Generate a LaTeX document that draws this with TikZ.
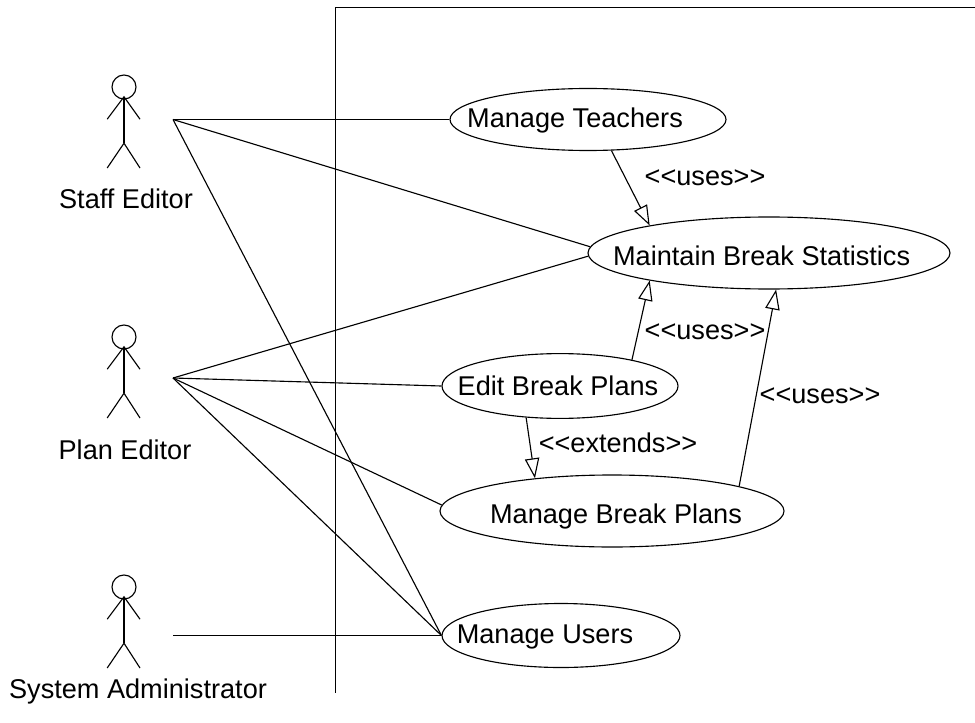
\documentclass[tikz,border=0pt]{standalone}
\usepackage{fontspec}
\setmainfont{Liberation Sans}
\usepackage{tikz}
\usepackage{xcolor}
\usetikzlibrary{shapes.geometric,arrows.meta}
\tikzset{
  usecase/.style={draw,ellipse,inner sep=0pt},
  caption/.style={font=\fontsize{19.3pt}{22pt}\selectfont,inner sep=0pt},
  uses/.style={-{Triangle[open,length=0.5cm,width=0.36cm]}},
}

\begin{document}
\begin{tikzpicture}[line width=0.8pt]
\useasboundingbox (0,0) rectangle (24.375,-18.05);
% system boundary
\coordinate (boundtop) at (8.3875,-0.1875);
\coordinate (boundright) at (24.375,-0.1875);
\coordinate (boundbottom) at (8.3875,-17.325);
\draw (boundright) -- (boundtop) -- (boundbottom);
% staff editor
\draw (3.1,-2.175) circle (0.3);
\draw (3.1,-2.42) -- (3.1,-3.58);
\draw (2.68,-2.98) -- (3.1,-2.42) -- (3.5,-2.98);
\draw (2.68,-4.2) -- (3.1,-3.58) -- (3.5,-4.2);
\coordinate (staffend) at (4.325,-2.9875);
\node (stafflabel) [caption] at (3.15,-4.975) {Staff Editor};
% plan editor
\draw (3.1,-8.425) circle (0.3);
\draw (3.1,-8.67) -- (3.1,-9.83);
\draw (2.68,-9.23) -- (3.1,-8.67) -- (3.5,-9.23);
\draw (2.68,-10.45) -- (3.1,-9.83) -- (3.5,-10.45);
\coordinate (planend) at (4.325,-9.45);
\node (planlabel) [caption] at (3.125,-11.25) {Plan Editor};
% system administrator
\draw (3.1,-14.675) circle (0.3);
\draw (3.1,-14.92) -- (3.1,-16.08);
\draw (2.68,-15.48) -- (3.1,-14.92) -- (3.5,-15.48);
\draw (2.68,-16.7) -- (3.1,-16.08) -- (3.5,-16.7);
\coordinate (sysend) at (4.325,-15.8875);
\node (syslabel) [caption] at (3.45,-17.275) {System Administrator};
% use cases
\node (teachers) [usecase,minimum width=6.9cm,minimum height=1.55cm] at (14.7,-2.9875) {};
\node (maintain) [usecase,minimum width=9.05cm,minimum height=1.8cm] at (19.225,-6.325) {};
\node (edit) [usecase,minimum width=5.9cm,minimum height=1.62cm] at (14.0,-9.65) {};
\node (manage) [usecase,minimum width=8.6cm,minimum height=1.8cm] at (15.3,-12.775) {};
\node (users) [usecase,minimum width=5.95cm,minimum height=1.6cm] at (14.025,-15.8875) {};
\node (teacherstext) [caption] at (14.375,-3.0) {Manage Teachers};
\node (maintaintext) [caption] at (19.04,-6.4) {Maintain Break Statistics};
\node (edittext) [caption] at (13.95,-9.65) {Edit Break Plans};
\node (managetext) [caption] at (15.4,-12.9) {Manage Break Plans};
\node (userstext) [caption] at (13.625,-15.925) {Manage Users};
% actor lines
\draw (staffend) -- (teachers.west);
\draw (staffend) -- (maintain.178.4);
\draw (staffend) -- (users.west);
\draw (planend) -- (maintain.181.6);
\draw (planend) -- (edit.west);
\draw (planend) -- (manage.178.5);
\draw (planend) -- (users.west);
\draw (sysend) -- (users.west);
% relations
\draw [uses] (teachers.-53) -- (maintain.167.7);
\draw [uses] (edit.20) -- (maintain.193);
\draw [uses] (manage.11.5) -- (maintain.-79);
\draw [uses] (edit.223) -- (manage.157);
\node (usesa) [caption] at (17.625,-4.45) {<{}<uses>{}>};
\node (usesb) [caption] at (17.625,-8.3) {<{}<uses>{}>};
\node (usesc) [caption] at (20.5,-9.9) {<{}<uses>{}>};
\node (extends) [caption] at (15.45,-11.075) {<{}<extends>{}>};
\end{tikzpicture}
\end{document}
